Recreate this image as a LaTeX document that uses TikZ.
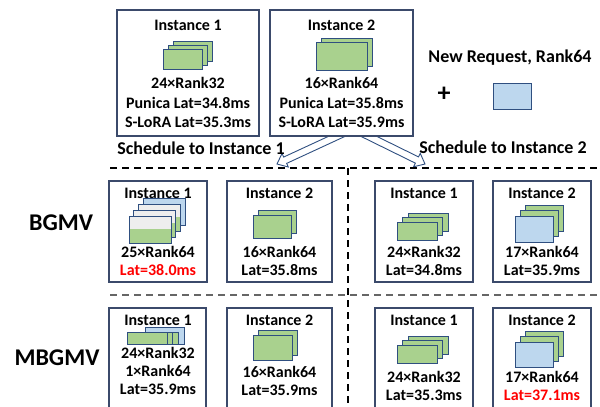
\documentclass[tikz,border=0pt]{standalone}
\usepackage{fontspec}
\setmainfont{Carlito}
\usetikzlibrary{calc}
\definecolor{boxc}{HTML}{3B4A6B}
\definecolor{edgec}{HTML}{2F4F80}
\definecolor{greenc}{HTML}{A9D18E}
\definecolor{bluec}{HTML}{BDD7EE}
\definecolor{grayc}{HTML}{EEEEEE}
\definecolor{redc}{HTML}{FF0000}
\tikzset{
 instbox/.style={draw=boxc, line width=1.1pt, fill=white, inner sep=0pt},
 card/.style={draw=edgec, line width=0.9pt, fill=greenc},
 bcard/.style={card, fill=bluec},
 lbl/.style={inner sep=0pt, font=\fontsize{16}{19}\selectfont\bfseries},
 biglbl/.style={inner sep=0pt, font=\fontsize{18}{21}\selectfont\bfseries},
 rowlbl/.style={inner sep=0pt, font=\fontsize{24}{28}\selectfont\bfseries},
 barrow/.style={draw=edgec, line width=0.9pt, fill=white, line join=miter},
 sepline/.style={line width=1.6pt, dash pattern=on 7pt off 5pt},
}
% #1 style, #2 x, #3 y, #4 w, #5 h
\newcommand\cardat[5]{\draw[#1] (#2,#3) rectangle ++(#4,#5);}
% green stack: #1 n-1, #2 x, #3 y, #4 w, #5 h, #6 dx, #7 dy
\newcommand\gstack[7]{\foreach \i in {#1,...,0}{\draw[card] ({#2+#6*\i},{#3+#7*\i}) rectangle ++(#4,#5);}}
\newcommand\blockarrow[2]{%
 \path ($(#2)!9pt!(#1)$) coordinate (hb);
 \draw[barrow] ($(#1)!3.5pt!90:(#2)$) -- ($(hb)!3.5pt!90:(#2)$) -- ($(hb)!7.5pt!90:(#2)$) -- (#2)
   -- ($(hb)!7.5pt!-90:(#2)$) -- ($(hb)!3.5pt!-90:(#2)$) -- ($(#1)!3.5pt!-90:(#2)$) -- cycle;}
\begin{document}
\begin{tikzpicture}[x=1pt,y=-1pt]
\useasboundingbox (0,0) rectangle (600,407);
\clip (0,0) rectangle (600,407);

% ---------- top row ----------
\node[instbox, minimum width=142pt, minimum height=126pt] (t1) at (188,73) {};
\coordinate (a1t) at (344,133); \coordinate (a1h) at (277,164);
\coordinate (a2t) at (362,133); \coordinate (a2h) at (425,164);
\blockarrow{a1t}{a1h}
\blockarrow{a2t}{a2h}
\node[instbox, minimum width=143pt, minimum height=126pt] (t2) at (341.5,73) {};

\node[lbl] (t1n) at (188,25) {Instance 1};
\gstack{2}{163}{49}{39}{20}{5}{-4}
\node[lbl] (t1a) at (188,83) {24×Rank32};
\node[lbl] (t1b) at (188,103) {Punica Lat=34.8ms};
\node[lbl] (t1c) at (188,122) {S-LoRA Lat=35.3ms};

\node[lbl] (t2n) at (341.5,25) {Instance 2};
\gstack{1}{316}{42}{51}{28}{5}{-4}
\node[lbl] (t2a) at (341.5,83) {16×Rank64};
\node[lbl] (t2b) at (341.5,103) {Punica Lat=35.8ms};
\node[lbl] (t2c) at (341.5,122) {S-LoRA Lat=35.9ms};

\node[biglbl] (nr) at (510,58) {New Request, Rank64};
\node[inner sep=0pt, font=\fontsize{26}{30}\selectfont\bfseries] (plus) at (444,94) {+};
\cardat{bcard}{493}{83}{38}{26}

\node[biglbl] (s1) at (201,148) {Schedule to Instance 1};
\node[biglbl] (s2) at (503,147) {Schedule to Instance 2};

% ---------- separators ----------
\coordinate (h1a) at (110,168); \coordinate (h1b) at (597,168);
\coordinate (h2a) at (110,295); \coordinate (h2b) at (597,295);
\coordinate (va) at (348,168); \coordinate (vb) at (348,410);
\draw[sepline] (h1a) -- (h1b);
\draw[sepline, black!60] (h2a) -- (h2b);
\draw[sepline] (va) -- (vb);

\node[rowlbl] (bg) at (61,223) {BGMV};
\node[rowlbl] (mbg) at (57,358) {MBGMV};

% ---------- BGMV row ----------
\node[instbox, minimum width=98pt, minimum height=101pt] (b1) at (158,231.5) {};
\node[instbox, minimum width=105pt, minimum height=101pt] (b2) at (279.5,231.5) {};
\node[instbox, minimum width=98pt, minimum height=101pt] (b3) at (424,231.5) {};
\node[instbox, minimum width=98pt, minimum height=101pt] (b4) at (542,231.5) {};

\node[lbl] (b1n) at (158,193) {Instance 1};
\cardat{bcard}{143}{198}{42}{27}
\foreach \i in {2,1,0}{
  \fill[grayc] ({129+4.7*\i},{216-6*\i}) rectangle ++(42,13);
  \fill[greenc] ({129+4.7*\i},{229-6*\i}) rectangle ++(42,14);
  \draw[card, fill=none] ({129+4.7*\i},{216-6*\i}) rectangle ++(42,27);
}
\node[lbl] (b1a) at (158,252) {25×Rank64};
\node[lbl, text=redc] (b1b) at (158,270) {Lat=38.0ms};

\node[lbl] (b2n) at (279.5,193) {Instance 2};
\gstack{1}{253}{215}{38}{23}{5}{-5}
\node[lbl] (b2a) at (279.5,252) {16×Rank64};
\node[lbl] (b2b) at (279.5,270) {Lat=35.8ms};

\node[lbl] (b3n) at (424,193) {Instance 1};
\gstack{2}{397}{222}{40}{18}{5.5}{-4.5}
\node[lbl] (b3a) at (424,252) {24×Rank32};
\node[lbl] (b3b) at (424,270) {Lat=34.8ms};

\node[lbl] (b4n) at (542,193) {Instance 2};
\gstack{2}{515}{216}{38}{26}{5}{-5.5}
\cardat{bcard}{515}{216}{38}{26}
\node[lbl] (b4a) at (542,252) {17×Rank64};
\node[lbl] (b4b) at (542,270) {Lat=35.9ms};

% ---------- MBGMV row ----------
\node[instbox, minimum width=97pt, minimum height=107pt] (m1) at (157.5,361.5) {};
\node[instbox, minimum width=105pt, minimum height=107pt] (m2) at (279.5,361.5) {};
\node[instbox, minimum width=98pt, minimum height=107pt] (m3) at (424,361.5) {};
\node[instbox, minimum width=98pt, minimum height=107pt] (m4) at (542,361.5) {};

\node[lbl] (m1n) at (158,320) {Instance 1};
\cardat{bcard}{145}{327}{39}{17}
\foreach \xx in {138,132.5,127}{\draw[card] (\xx,332) rectangle ++(40,12);}
\node[lbl] (m1a) at (158,353) {24×Rank32};
\node[lbl] (m1b) at (158,371) {1×Rank64};
\node[lbl] (m1c) at (158,389) {Lat=35.9ms};

\node[lbl] (m2n) at (279.5,320) {Instance 2};
\gstack{1}{253}{335}{39}{25}{5.5}{-5}
\node[lbl] (m2a) at (279.5,372) {16×Rank64};
\node[lbl] (m2b) at (279.5,390) {Lat=35.9ms};

\node[lbl] (m3n) at (424,320) {Instance 1};
\gstack{2}{397}{345}{40}{18}{5.5}{-4.5}
\node[lbl] (m3a) at (424,377) {24×Rank32};
\node[lbl] (m3b) at (424,395) {Lat=35.3ms};

\node[lbl] (m4n) at (542,320) {Instance 2};
\gstack{2}{515}{342}{38}{25}{5}{-5.5}
\cardat{bcard}{515}{342}{38}{25}
\node[lbl] (m4a) at (542,377) {17×Rank64};
\node[lbl, text=redc] (m4b) at (542,395) {Lat=37.1ms};
\end{tikzpicture}
\end{document}
